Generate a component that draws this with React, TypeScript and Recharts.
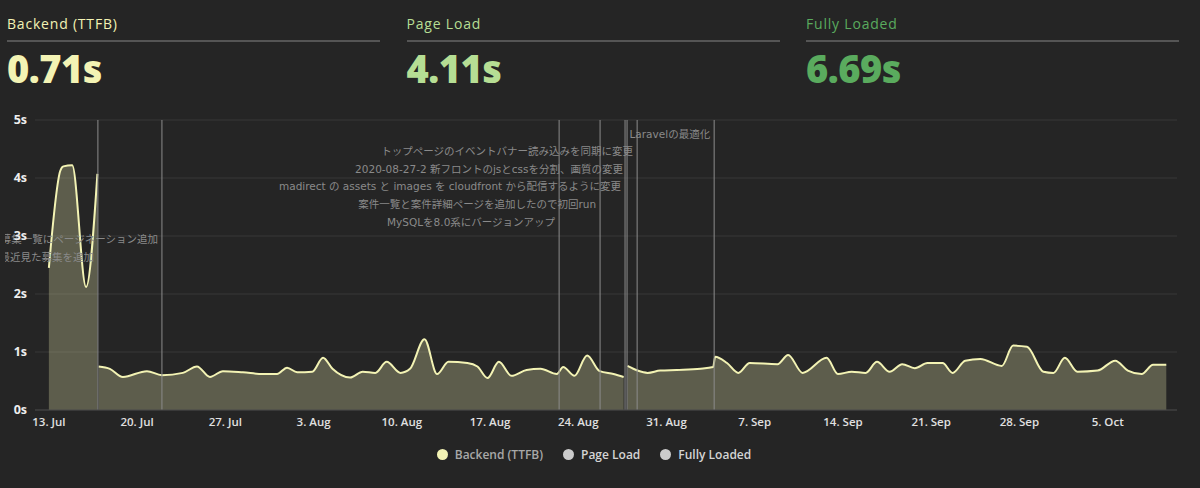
import React from 'react';
import { AreaChart, Area, XAxis, YAxis, CartesianGrid, ReferenceLine } from 'recharts';

// days since 13 Jul 2020
const dayOffsets = [
  0, 0.9, 1.15, 1.85, 2.95, 3.85, 3.9, 3.95, 4.84, 5.87, 7.78, 8.97, 10.63, 11.75, 12.78, 13.81,
  15.4, 16.98, 18.1, 18.9, 19.7, 20.9, 21.75, 22.5, 23.9, 24.9, 25.9, 26.8, 27.9, 28.65, 29.8,
  30.8, 31.7, 33.2, 34.0, 34.8, 35.7, 36.7, 37.9, 39.0, 40.3, 40.8, 41.7, 42.7, 43.7, 44.8, 45.6,
  45.8, 45.9, 46.7, 47.5, 48.5, 49.8, 51.7, 52.7, 52.86, 53.8, 54.7, 55.6, 57.8, 58.65, 59.8,
  61.7, 62.6, 63.7, 64.8, 65.7, 66.7, 67.7, 68.7, 69.7, 70.9, 71.7, 72.7, 73.9, 75.6, 76.5,
  77.6, 78.9, 79.7, 80.6, 81.6, 83.2, 84.6, 85.6, 86.7, 87.6, 88.65,
];
const backendSeconds: (number | null)[] = [
  2.45, 4.12, 4.2, 4.22, 2.12, 4.07, null, 0.75, 0.71, 0.57, 0.67, 0.6, 0.64, 0.75, 0.57, 0.67,
  0.65, 0.62, 0.62, 0.73, 0.65, 0.66, 0.9, 0.71, 0.56, 0.66, 0.64, 0.83, 0.64, 0.71, 1.22,
  0.62, 0.83, 0.81, 0.75, 0.55, 0.83, 0.59, 0.69, 0.71, 0.62, 0.74, 0.59, 0.94, 0.67, 0.62, 0.57,
  null, 0.76, 0.68, 0.64, 0.68, 0.69, 0.71, 0.74, 0.92, 0.81, 0.64, 0.81, 0.79, 0.95, 0.64,
  0.9, 0.62, 0.66, 0.64, 0.83, 0.66, 0.79, 0.72, 0.81, 0.81, 0.64, 0.85, 0.88, 0.76, 1.11,
  1.09, 0.66, 0.64, 0.9, 0.66, 0.68, 0.85, 0.68, 0.62, 0.78, 0.78,
];

const tickDays = [0, 7, 14, 21, 28, 35, 42, 49, 56, 63, 70, 77, 84];
const tickLabels = ['13. Jul', '20. Jul', '27. Jul', '3. Aug', '10. Aug', '17. Aug', '24. Aug', '31. Aug', '7. Sep', '14. Sep', '21. Sep', '28. Sep', '5. Oct'];
const yTicks = [0, 1, 2, 3, 4, 5];

const annotationDays = [3.89, 8.97, 40.48, 43.73, 45.71, 45.87, 46.67, 52.78];
const annotationLabels = [
  '最近見た募集を追加',
  '募集一覧にページネーション追加',
  'MySQLを8.0系にバージョンアップ',
  '案件一覧と案件詳細ページを追加したので初回run',
  'madirect の assets と images を cloudfront から配信するように変更',
  '2020-08-27-2 新フロントのjsとcssを分割、画質の変更',
  'トップページのイベントバナー読み込みを同期に変更',
  'Laravelの最適化',
];

const summaryTitles = ['Backend (TTFB)', 'Page Load', 'Fully Loaded'];
const summaryValues = ['0.71s', '4.11s', '6.69s'];
const summaryColors = ['#f3f3b4', '#b6de94', '#5aab5e'];

const legendNames = ['Backend (TTFB)', 'Page Load', 'Fully Loaded'];
const legendSymbolColors = ['#f3f3b4', '#cccccc', '#cccccc'];
const legendTextColors = ['#a8a8a8', '#d4d4d4', '#d4d4d4'];

const data = dayOffsets.map((d, i) => ({ d, v: backendSeconds[i] }));

const FONT = "'Open Sans', 'Noto Sans CJK JP', sans-serif";
const ANNO = "'DejaVu Sans', 'Noto Sans CJK JP', sans-serif";

const PlotLabel = (props: any) => {
  const { viewBox, text, rank } = props;
  if (!viewBox) return null;
  return (
    <text
      x={viewBox.x - 4}
      y={viewBox.y + 14 + rank * 17.6}
      dy="0.35em"
      textAnchor="end"
      fill="#8a8a8a"
      fontSize={10.5}
      fontFamily={ANNO}
    >
      {text}
    </text>
  );
};

export default function App() {
  const order = annotationDays
    .map((d, i) => ({ d, i }))
    .sort((a, b) => b.d - a.d)
    .map((o) => o.i);
  return (
    <div style={{ position: 'fixed', left: 0, top: 0, width: 1200, height: 488, background: '#252525', fontFamily: FONT, overflow: 'hidden' }}>
      {summaryTitles.map((t, i) => (
        <div key={t} style={{ position: 'absolute', left: 7 + i * 399.5, top: 14, width: 373 }}>
          <div style={{ color: summaryColors[i], fontSize: 14, lineHeight: '20px', letterSpacing: 0.8 }}>{t}</div>
          <div style={{ height: 2, background: '#555555', marginTop: 6 }} />
          <div style={{ color: summaryColors[i], fontSize: 38, fontWeight: 800, lineHeight: '44px', marginTop: 4, letterSpacing: -0.5 }}>
            {summaryValues[i]}
          </div>
        </div>
      ))}
      <div style={{ position: 'absolute', left: 5, top: 0 }}>
        <AreaChart width={1195} height={440} data={data} margin={{ top: 120, right: 23, bottom: 0, left: 0 }}>
          <CartesianGrid vertical={false} stroke="#383838" />
          <XAxis
            dataKey="d"
            type="number"
            domain={[-1.1, 89.5]}
            ticks={tickDays}
            tickFormatter={(v: number) => tickLabels[tickDays.indexOf(v)]}
            tickLine={false}
            tickSize={0}
            tickMargin={8}
            axisLine={{ stroke: '#444444' }}
            height={30}
            tick={{ fill: '#e0e0e0', fontSize: 11.5, fontWeight: 600, fontFamily: FONT }}
            allowDataOverflow
          />
          <YAxis
            domain={[0, 5]}
            ticks={yTicks}
            tickFormatter={(v: number) => `${v}s`}
            width={30}
            tickLine={false}
            tickSize={0}
            tickMargin={8}
            axisLine={false}
            tick={{ fill: '#eeeeee', fontSize: 12.5, fontWeight: 700, fontFamily: FONT }}
          />
          <Area
            type="monotone"
            dataKey="v"
            stroke="#f3f3b4"
            strokeWidth={2}
            fill="#f3f3b4"
            fillOpacity={0.27}
            isAnimationActive={false}
            dot={false}
            activeDot={false}
          />
          {annotationDays.map((d, i) => (
            <ReferenceLine
              key={i}
              x={d}
              stroke="#8c8c8c"
              strokeWidth={1}
              label={<PlotLabel text={annotationLabels[i]} rank={order.indexOf(i)} />}
            />
          ))}
        </AreaChart>
      </div>
      <div style={{ position: 'absolute', left: 0, top: 446, width: 1200, display: 'flex', justifyContent: 'center', paddingLeft: 8, boxSizing: 'border-box' }}>
        {legendNames.map((n, i) => (
          <div key={n} style={{ display: 'flex', alignItems: 'center', marginRight: 20, height: 16 }}>
            <span style={{ width: 11, height: 11, borderRadius: '50%', background: legendSymbolColors[i], display: 'inline-block', marginRight: 7 }} />
            <span style={{ color: legendTextColors[i], fontSize: 12, fontWeight: 600 }}>{n}</span>
          </div>
        ))}
      </div>
    </div>
  );
}
